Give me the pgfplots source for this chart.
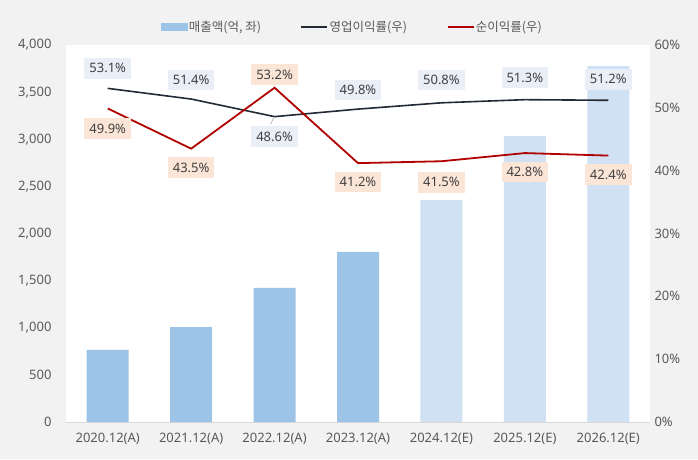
\documentclass[border=0pt]{standalone}
\usepackage{fontspec}
\setmainfont{Noto Sans}
\newfontfamily\kr{Noto Sans CJK KR}
\usepackage{pgfplots}
\pgfplotsset{compat=1.18}
\usepackage{pgfplotstable}

\definecolor{bgc}{HTML}{F2F2F2}
\definecolor{barA}{HTML}{9DC3E6}
\definecolor{barE}{HTML}{CFE1F2}
\definecolor{opc}{HTML}{222A35}
\definecolor{nic}{HTML}{B00000}
\definecolor{opbox}{HTML}{E9EEF7}
\definecolor{nibox}{HTML}{FBE5D6}
\definecolor{txt}{HTML}{595959}
\definecolor{lab}{HTML}{404040}
\definecolor{axc}{HTML}{D9D9D9}

\pgfplotstableread{
x y
0 764
1 1008
2 1422
3 1804
}\salesA
\pgfplotstableread{
x y
4 2355
5 3034
6 3777
}\salesE
\pgfplotstableread{
x y off
0 53.1 20
1 51.4 19
2 48.6 -20
3 49.8 19
4 50.8 23
5 51.3 22
6 51.2 21
}\opm
\pgfplotstableread{
x y off
0 49.9 -20
1 43.5 -19
2 53.2 13
3 41.2 -19
4 41.5 -21
5 42.8 -19
6 42.4 -19
}\nim

\newcommand{\fs}{\fontsize{13}{15}\selectfont}

\begin{document}
\begin{tikzpicture}
\fill[bgc] (0,0) rectangle (698pt,459pt);
\begin{axis}[
  at={(66pt,37pt)}, anchor=south west,
  scale only axis, width=584pt, height=377pt,
  xmin=-0.5, xmax=6.5, ymin=0, ymax=4000,
  axis background/.style={fill=white},
  axis x line*=bottom, axis y line*=left,
  x axis line style={draw=axc, line width=0.8pt, -},
  y axis line style={draw=none},
  major tick length=0pt, tick style={draw=none},
  xtick={0,...,6},
  xticklabels={2020.12(A),2021.12(A),2022.12(A),2023.12(A),2024.12(E),2025.12(E),2026.12(E)},
  ytick={0,500,...,4000},
  /pgf/number format/assume math mode=true,
  /pgf/number format/1000 sep={,},
  yticklabel style={font=\fs, color=txt, xshift=-11pt},
  xticklabel style={font=\fs, color=txt, yshift=-8pt},
]
\addplot[ybar, bar width=42pt, bar shift=0pt, fill=barA, draw=none] table[x=x,y=y]{\salesA};
\addplot[ybar, bar width=42pt, bar shift=0pt, fill=barE, draw=none] table[x=x,y=y]{\salesE};
\end{axis}
\begin{axis}[
  at={(66pt,37pt)}, anchor=south west,
  scale only axis, width=584pt, height=377pt,
  xmin=-0.5, xmax=6.5, ymin=0, ymax=60,
  axis x line=none, axis y line*=right,
  y axis line style={draw=none},
  major tick length=0pt, tick style={draw=none},
  ytick={0,10,...,60},
  yticklabel={\pgfmathprintnumber{\tick}\%},
  /pgf/number format/assume math mode=true,
  yticklabel style={font=\fs, color=txt, xshift=1pt},
  legend image code/.code={\draw[#1] (0pt,0pt) -- (26pt,0pt);},
  legend style={at={(0.49,1.048)}, anchor=center, draw=none, fill=none,
    font=\kr\fontsize{12.5}{14}\selectfont, text=txt, inner sep=0pt,
    /tikz/every even column/.append style={column sep=38pt},
    nodes={inner xsep=1.5pt}},
  legend columns=3,
  legend cell align=left,
]
\addlegendimage{legend image code/.code={\fill[barA] (0pt,-3.5pt) rectangle (26pt,3.5pt);}}
\addlegendentry{매출액(억, 좌)}
\addplot[opc, line width=1.6pt, mark=none] table[x=x,y=y]{\opm};
\addlegendentry{영업이익률(우)}
\addplot[nic, line width=1.8pt, mark=none] table[x=x,y=y]{\nim};
\addlegendentry{순이익률(우)}
\draw[gray!70, line width=0.6pt] (axis cs:2,48.6) ++(-1pt,-1.5pt) -- ++(-3pt,-6pt);
\addplot[draw=none, mark=none, forget plot, point meta=explicit,
  nodes near coords={\pgfmathprintnumber[fixed,fixed zerofill,precision=1]{\pgfplotspointmeta}\%},
  nodes near coords align={center},
  nodes near coords style={anchor=center, fill=opbox, text=lab, font=\fs, inner xsep=5pt, inner ysep=5.5pt}]
  table[x=x, y expr=\thisrow{y}+\thisrow{off}/6.2833, meta=y]{\opm};
\addplot[draw=none, mark=none, forget plot, point meta=explicit,
  nodes near coords={\pgfmathprintnumber[fixed,fixed zerofill,precision=1]{\pgfplotspointmeta}\%},
  nodes near coords align={center},
  nodes near coords style={anchor=center, fill=nibox, text=lab, font=\fs, inner xsep=5pt, inner ysep=5.5pt}]
  table[x=x, y expr=\thisrow{y}+\thisrow{off}/6.2833, meta=y]{\nim};
\end{axis}
\pgfresetboundingbox
\path (0,0) rectangle (698pt,459pt);
\end{tikzpicture}
\end{document}
